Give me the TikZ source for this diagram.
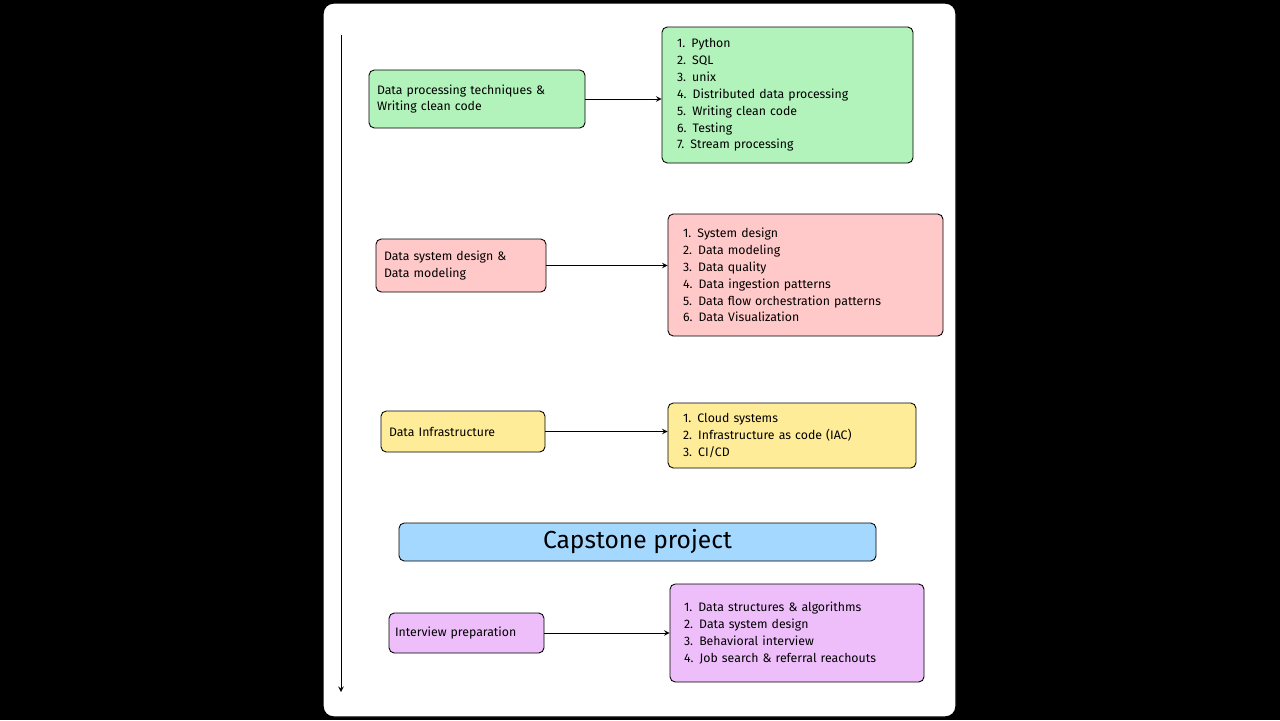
\documentclass[tikz,border=0pt]{standalone}
\usepackage{fontspec}
\setmainfont{Fira Sans}
\usetikzlibrary{positioning}
\definecolor{greenbox}{HTML}{B2F2BB}
\definecolor{redbox}{HTML}{FFC9C9}
\definecolor{yellowbox}{HTML}{FFEC99}
\definecolor{bluebox}{HTML}{A5D8FF}
\definecolor{purplebox}{HTML}{EEBEFA}
\tikzset{
  topic/.style={draw=black, rounded corners=3pt, align=left, inner sep=0pt,
    font=\fontsize{7}{9.6}\selectfont, line width=0.5pt},
  arr/.style={->, >=stealth, line width=0.4pt}
}
\begin{document}
\begin{tikzpicture}[x=0.02cm, y=-0.02cm]
\fill[black] (0,0) rectangle (1280,720);
\draw[fill=white, rounded corners=6pt, line width=0.8pt] (323,3) rectangle (956,717);
% time line
\coordinate (top) at (341,35);
\coordinate (bot) at (341,692);
\draw[arr] (top) -- (bot);
% processing
\node[topic, fill=greenbox, minimum width=216*0.02cm, minimum height=58*0.02cm, text width=200*0.02cm] (proc) at (477,99) {Data processing techniques \&\\Writing clean code};
\node[topic, fill=greenbox, minimum width=251*0.02cm, minimum height=136*0.02cm, text width=221*0.02cm] (procl) at (787.5,95) {1. Python\\2. SQL\\3. unix\\4. Distributed data processing\\5. Writing clean code\\6. Testing\\7. Stream processing};
\draw[arr] (proc.east) -- (procl.west |- proc.east);
% design
\node[topic, fill=redbox, minimum width=170*0.02cm, minimum height=53*0.02cm, text width=154*0.02cm] (dsgn) at (461,265.5) {Data system design \&\\Data modeling};
\node[topic, fill=redbox, minimum width=275*0.02cm, minimum height=122*0.02cm, text width=245*0.02cm] (dsgnl) at (805.5,275) {1. System design\\2. Data modeling\\3. Data quality\\4. Data ingestion patterns\\5. Data flow orchestration patterns\\6. Data Visualization};
\draw[arr] (dsgn.east) -- (dsgnl.west |- dsgn.east);
% infrastructure
\node[topic, fill=yellowbox, minimum width=164*0.02cm, minimum height=41*0.02cm, text width=148*0.02cm] (infra) at (463,431.5) {Data Infrastructure};
\node[topic, fill=yellowbox, minimum width=248*0.02cm, minimum height=65*0.02cm, text width=218*0.02cm] (infral) at (792,435.5) {1. Cloud systems\\2. Infrastructure as code (IAC)\\3. CI/CD};
\draw[arr] (infra.east) -- (infral.west |- infra.east);
% capstone
\node[topic, fill=bluebox, minimum width=477*0.02cm, minimum height=38*0.02cm, align=center, font=\fontsize{14}{16}\selectfont] (cap) at (637.5,542) {Capstone project};
% interview
\node[topic, fill=purplebox, minimum width=155*0.02cm, minimum height=40*0.02cm, text width=143*0.02cm] (intv) at (466.5,633) {Interview preparation};
\node[topic, fill=purplebox, minimum width=254*0.02cm, minimum height=98*0.02cm, text width=226*0.02cm] (intvl) at (797,633) {1. Data structures \& algorithms\\2. Data system design\\3. Behavioral interview\\4. Job search \& referral reachouts};
\draw[arr] (intv.east) -- (intvl.west |- intv.east);
\end{tikzpicture}
\end{document}
